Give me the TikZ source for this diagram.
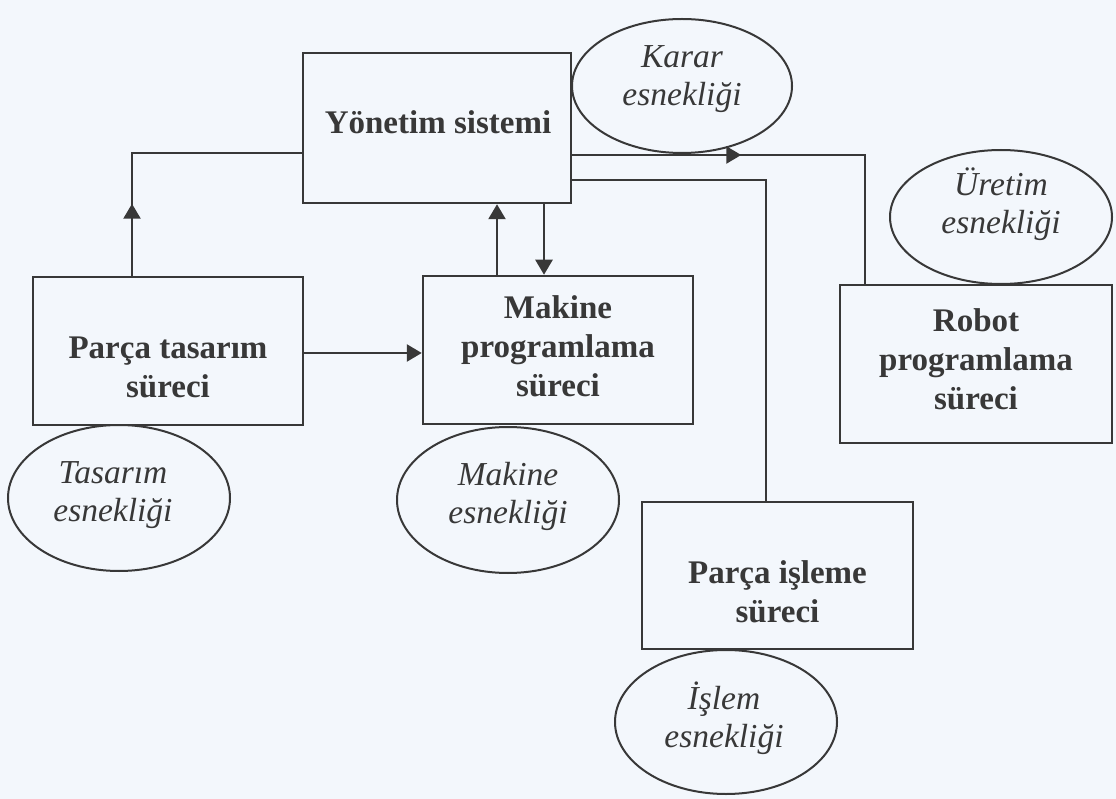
\documentclass[tikz,border=0pt]{standalone}
\usepackage{fontspec}
\setmainfont{Liberation Serif}
\usetikzlibrary{arrows.meta,shapes.geometric,decorations.markings}

\definecolor{paper}{HTML}{F3F7FC}
\definecolor{ink}{HTML}{383838}

\tikzset{
  procbox/.style={draw=ink, line width=2.5pt, rectangle, inner sep=0pt,
                  minimum width=#1},
  flexell/.style={draw=ink, line width=2pt, ellipse, inner sep=0pt},
  proctext/.style={text=ink, align=center, inner sep=0pt,
                   font=\bfseries\fontsize{33}{39}\selectfont},
  flextext/.style={text=ink, align=center, inner sep=0pt,
                   font=\itshape\fontsize{33.5}{37.5}\selectfont},
  conn/.style={draw=ink, line width=2.5pt},
  tip/.style={-{Triangle[width=17pt,length=15pt]}},
  midtip/.style={postaction={decorate},
    decoration={markings,
      mark=at position #1 with {\arrow{Triangle[width=17pt,length=15pt]}}}}
}

\begin{document}
\begin{tikzpicture}[x=1pt,y=-1pt]
  \useasboundingbox (0,0) rectangle (1116,799);
  \fill[paper] (0,0) rectangle (1116,799);

  % process boxes
  \node[procbox=268pt, minimum height=150pt] (yon) at (437,128) {};
  \node[procbox=270pt, minimum height=148pt] (pt)  at (168,351) {};
  \node[procbox=270pt, minimum height=148pt] (mp)  at (558,350) {};
  \node[procbox=272pt, minimum height=158pt] (rp)  at (976,364) {};
  \node[procbox=271pt, minimum height=147pt] (pi)  at (777.5,575.5) {};

  \node[proctext] (yon-t) at (438,122) {Yönetim sistemi};
  \node[proctext] (pt-t)  at (168,367.5) {Parça tasarım\\süreci};
  \node[proctext] (mp-t)  at (558,346) {Makine\\programlama\\süreci};
  \node[proctext] (rp-t)  at (976,359) {Robot\\programlama\\süreci};
  \node[proctext] (pi-t)  at (777.5,592) {Parça işleme\\süreci};

  % flexibility ellipses
  \node[flexell, minimum width=220pt, minimum height=134pt] (kar) at (682,86) {};
  \node[flexell, minimum width=222pt, minimum height=134pt] (ure) at (1001,217) {};
  \node[flexell, minimum width=222pt, minimum height=146pt] (tas) at (119,498) {};
  \node[flexell, minimum width=222pt, minimum height=146pt] (mak) at (508,500) {};
  \node[flexell, minimum width=222pt, minimum height=144pt] (isl) at (726,722) {};

  \node[flextext] (kar-t) at (682,79) {Karar\\esnekliği};
  \node[flextext] (ure-t) at (1001,204) {Üretim\\esnekliği};
  \node[flextext] (tas-t) at (113,495) {Tasarım\\esnekliği};
  \node[flextext] (mak-t) at (508,496.5) {Makine\\esnekliği};
  \node[flextext] (isl-t) at (724,718) {İşlem\\esnekliği};

  % connectors
  \draw[conn, midtip=72pt] ([xshift=-36pt]pt.north) |- ([yshift=-25pt]yon.west);
  \draw[conn, tip] ([yshift=-2pt]pt.east) -- ([yshift=-2pt]pt.east -| mp.west);
  \draw[conn, tip] ([xshift=-61pt]mp.north) -- ([xshift=-61pt]mp.north |- yon.south);
  \draw[conn, tip] ([xshift=-14pt]mp.north |- yon.south) -- ([xshift=-14pt]mp.north);
  \draw[conn, midtip=169pt] ([yshift=-27pt]yon.east) -| ([xshift=-111pt]rp.north);
  \draw[conn] ([yshift=-52pt]yon.east) -| ([xshift=-11.5pt]pi.north);
\end{tikzpicture}
\end{document}
